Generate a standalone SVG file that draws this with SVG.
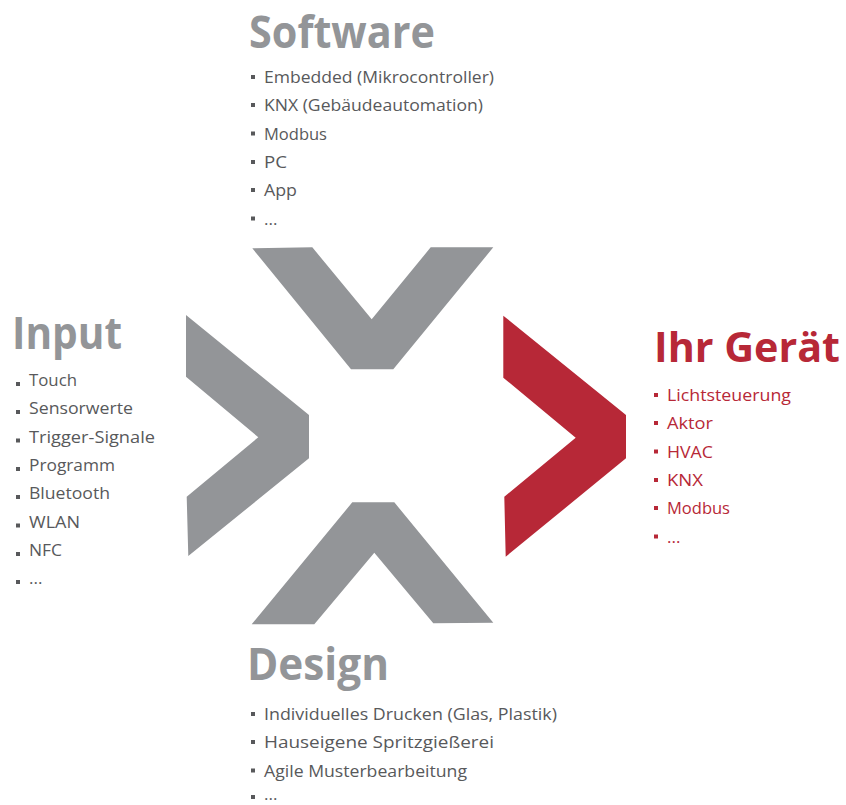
<svg xmlns="http://www.w3.org/2000/svg" width="846" height="805" viewBox="0 0 846 805">
<style>
.h{font-family:"Open Sans","Liberation Sans",sans-serif;font-weight:700;fill:#939598}
.hr{fill:#b72837}
.i{font-family:"Open Sans","Liberation Sans",sans-serif;font-size:17px;fill:#58595b}
.ir{fill:#b72837}
.b{fill:#58595b}
.br{fill:#b72837}
.g{fill:#939598}
.r{fill:#b72837}
</style>
<rect width="846" height="805" fill="#ffffff"/>
<g id="chevrons">
<polygon class="g" points="252.3,248.3 312.3,247.3 371.7,319.3 430.7,247.3 493.3,247.3 393.3,369.3 351,369.3"/>
<polygon class="g" points="186,315 186,376.7 258.3,437.3 186.7,496.7 188.3,556 309,458.3 309,415"/>
<polygon class="g" points="352.3,502.3 394.3,502.3 493.3,622.7 433.3,623.3 374.3,552.7 314.3,624.3 251.7,624.3"/>
<polygon class="r" points="503.3,315.7 503.3,377.7 575.7,437.7 504.3,496.7 505.7,556.7 626,458.3 626,415"/>
</g>
<g id="software">
<text class="h" x="249" y="48" font-size="45" textLength="186" lengthAdjust="spacingAndGlyphs">Software</text>
<g class="b"><rect x="251" y="75" width="4" height="4"/><rect x="251" y="103" width="4" height="4"/><rect x="251" y="131.5" width="4" height="4"/><rect x="251" y="160" width="4" height="4"/><rect x="251" y="188" width="4" height="4"/><rect x="251" y="216.5" width="4" height="4"/></g>
<text class="i" x="264" y="83" textLength="230" lengthAdjust="spacingAndGlyphs">Embedded (Mikrocontroller)</text>
<text class="i" x="264" y="111" textLength="219" lengthAdjust="spacingAndGlyphs">KNX (Gebäudeautomation)</text>
<text class="i" x="264" y="139.5" textLength="63" lengthAdjust="spacingAndGlyphs">Modbus</text>
<text class="i" x="264" y="168" textLength="23" lengthAdjust="spacingAndGlyphs">PC</text>
<text class="i" x="264" y="196" textLength="33" lengthAdjust="spacingAndGlyphs">App</text>
<text class="i" x="264" y="224.5">...</text>
</g>
<g id="input">
<text class="h" x="12" y="349" font-size="45" textLength="110" lengthAdjust="spacingAndGlyphs">Input</text>
<g class="b"><rect x="16" y="382" width="4" height="4"/><rect x="16" y="410" width="4" height="4"/><rect x="16" y="438.5" width="4" height="4"/><rect x="16" y="467" width="4" height="4"/><rect x="16" y="495" width="4" height="4"/><rect x="16" y="523.5" width="4" height="4"/><rect x="16" y="552" width="4" height="4"/><rect x="16" y="580" width="4" height="4"/></g>
<text class="i" x="29" y="386" textLength="48" lengthAdjust="spacingAndGlyphs">Touch</text>
<text class="i" x="29" y="414" textLength="104" lengthAdjust="spacingAndGlyphs">Sensorwerte</text>
<text class="i" x="29" y="442.5" textLength="126" lengthAdjust="spacingAndGlyphs">Trigger-Signale</text>
<text class="i" x="29" y="471" textLength="86" lengthAdjust="spacingAndGlyphs">Programm</text>
<text class="i" x="29" y="499" textLength="81" lengthAdjust="spacingAndGlyphs">Bluetooth</text>
<text class="i" x="29" y="527.5" textLength="51" lengthAdjust="spacingAndGlyphs">WLAN</text>
<text class="i" x="29" y="556" textLength="33" lengthAdjust="spacingAndGlyphs">NFC</text>
<text class="i" x="29" y="584">...</text>
</g>
<g id="ihr-geraet">
<text class="h hr" x="654" y="362" font-size="42" textLength="186" lengthAdjust="spacingAndGlyphs">Ihr Gerät</text>
<g class="br"><rect x="654" y="393" width="4" height="4"/><rect x="654" y="421" width="4" height="4"/><rect x="654" y="449.5" width="4" height="4"/><rect x="654" y="478" width="4" height="4"/><rect x="654" y="506" width="4" height="4"/><rect x="654" y="534.5" width="4" height="4"/></g>
<text class="i ir" x="667" y="401" textLength="124" lengthAdjust="spacingAndGlyphs">Lichtsteuerung</text>
<text class="i ir" x="667" y="429" textLength="46" lengthAdjust="spacingAndGlyphs">Aktor</text>
<text class="i ir" x="667" y="457.5" textLength="46" lengthAdjust="spacingAndGlyphs">HVAC</text>
<text class="i ir" x="667" y="486" textLength="36" lengthAdjust="spacingAndGlyphs">KNX</text>
<text class="i ir" x="667" y="514" textLength="63" lengthAdjust="spacingAndGlyphs">Modbus</text>
<text class="i ir" x="667" y="542.5">...</text>
</g>
<g id="design">
<text class="h" x="247" y="680" font-size="45" textLength="142" lengthAdjust="spacingAndGlyphs">Design</text>
<g class="b"><rect x="251" y="712" width="4" height="4"/><rect x="251" y="740" width="4" height="4"/><rect x="251" y="768.5" width="4" height="4"/><rect x="251" y="795" width="4" height="4"/></g>
<text class="i" x="264" y="720" textLength="293" lengthAdjust="spacingAndGlyphs">Individuelles Drucken (Glas, Plastik)</text>
<text class="i" x="264" y="748" textLength="230" lengthAdjust="spacingAndGlyphs">Hauseigene Spritzgießerei</text>
<text class="i" x="264" y="776.5" textLength="203" lengthAdjust="spacingAndGlyphs">Agile Musterbearbeitung</text>
<text class="i" x="264" y="800">...</text>
</g>
</svg>
